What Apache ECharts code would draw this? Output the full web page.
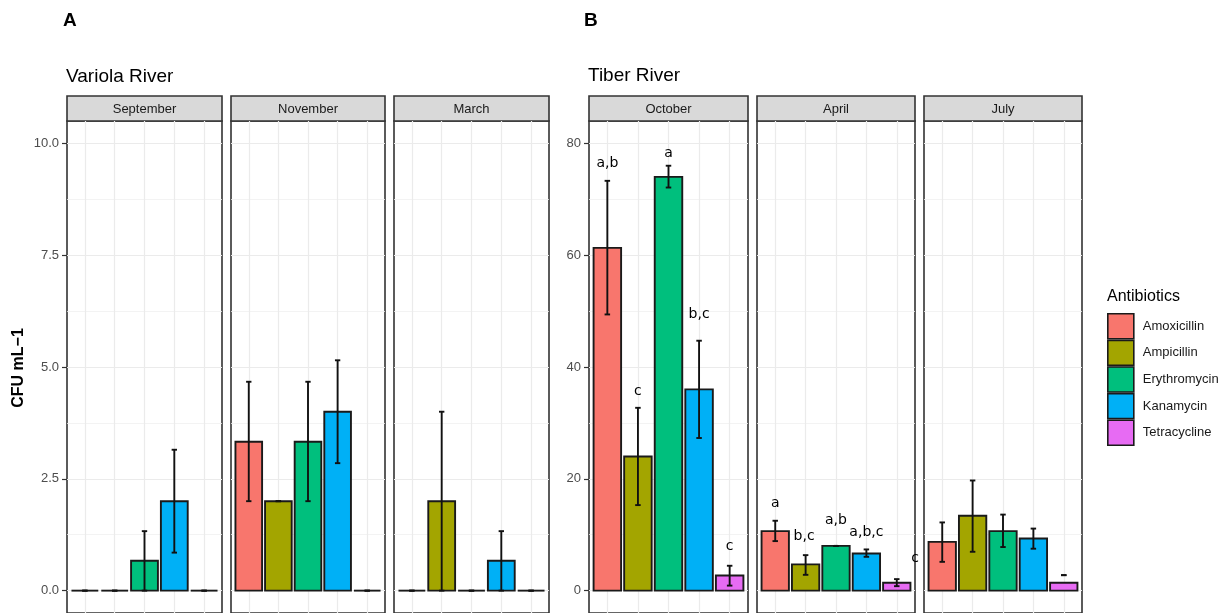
<!DOCTYPE html>
<html>
<head>
<meta charset="utf-8">
<script src="https://cdn.jsdelivr.net/npm/echarts@6/dist/echarts.min.js"></script>
<style>
  html, body { margin: 0; padding: 0; background: #fff; }
  #chart { width: 1222px; height: 613px; }
</style>
</head>
<body>
<div id="chart"></div>
<script>
// ---------- DATA ----------
const antibiotics = ['Amoxicillin', 'Ampicillin', 'Erythromycin', 'Kanamycin', 'Tetracycline'];
const antibioticColors = ['#F8766D', '#A3A500', '#00BF7D', '#00B0F6', '#E76BF3'];

const variolaMonths = ['September', 'November', 'March'];
const tiberMonths = ['October', 'April', 'July'];

const leftTicks = [0, 2.5, 5, 7.5, 10];
const leftMinorTicks = [1.25, 3.75, 6.25, 8.75];
const rightTicks = [0, 20, 40, 60, 80];
const rightMinorTicks = [10, 30, 50, 70];

// Variola River (mean, lower, upper)
const sepMean = [0, 0, 0.667, 2.0, 0];
const sepLo   = [0, 0, 0, 0.85, 0];
const sepHi   = [0, 0, 1.33, 3.15, 0];

const novMean = [3.33, 2.0, 3.33, 4.0, 0];
const novLo   = [2.0, 2.0, 2.0, 2.85, 0];
const novHi   = [4.67, 2.0, 4.67, 5.15, 0];

const marMean = [0, 2.0, 0, 0.667, 0];
const marLo   = [0, 0, 0, 0, 0];
const marHi   = [0, 4.0, 0, 1.33, 0];

// Tiber River (mean, lower, upper, letters)
const octMean = [61.3, 24.0, 74.0, 36.0, 2.7];
const octLo   = [49.4, 15.3, 72.1, 27.3, 0.9];
const octHi   = [73.3, 32.7, 76.0, 44.7, 4.45];
const octLetters  = ['a,b', 'c', 'a', 'b,c', 'c'];
const octLetterY  = [76.5, 35.6, 78.2, 49.5, 8.0];
const octLetterX  = [1, 2, 3, 4, 5];

const aprMean = [10.65, 4.7, 8.0, 6.65, 1.4];
const aprLo   = [8.86, 2.83, 8.0, 6.05, 0.8];
const aprHi   = [12.5, 6.35, 8.0, 7.37, 2.06];
const aprLetters  = ['a', 'b,c', 'a,b', 'a,b,c', 'c'];
const aprLetterY  = [15.6, 9.75, 12.5, 10.35, 5.76];
const aprLetterX  = [1, 1.95, 3, 4, 5.6];

const julMean = [8.73, 13.4, 10.65, 9.33, 1.4];
const julLo   = [5.15, 6.95, 7.8, 7.5, 2.77];
const julHi   = [12.2, 19.7, 13.6, 11.1, 2.77];

// ---------- LAYOUT ----------
const panels = [
  { name: variolaMonths[0], left: 67,  width: 155, mean: sepMean, lo: sepLo, hi: sepHi, scale: 'L', showAxis: true },
  { name: variolaMonths[1], left: 231, width: 154, mean: novMean, lo: novLo, hi: novHi, scale: 'L' },
  { name: variolaMonths[2], left: 394, width: 155, mean: marMean, lo: marLo, hi: marHi, scale: 'L' },
  { name: tiberMonths[0], left: 589, width: 159, mean: octMean, lo: octLo, hi: octHi, scale: 'R', showAxis: true,
    letters: octLetters, letterY: octLetterY, letterX: octLetterX },
  { name: tiberMonths[1], left: 757, width: 158, mean: aprMean, lo: aprLo, hi: aprHi, scale: 'R',
    letters: aprLetters, letterY: aprLetterY, letterX: aprLetterX },
  { name: tiberMonths[2], left: 924, width: 158, mean: julMean, lo: julLo, hi: julHi, scale: 'R' }
];
const TOP = 121, HEIGHT = 492, STRIP_TOP = 96, STRIP_H = 25;
const FONT = '"Liberation Sans", Arial, sans-serif';

const grids = [], xAxes = [], yAxes = [], series = [], graphics = [];

panels.forEach((p, i) => {
  const isL = p.scale === 'L';
  const yMin = isL ? -0.5 : -4, yMax = isL ? 10.5 : 84;
  grids.push({ left: p.left, top: TOP, width: p.width, height: HEIGHT, show: true,
    borderColor: '#333', borderWidth: 1.6, backgroundColor: '#fff', containLabel: false, outerBoundsMode: 'none' });
  xAxes.push({ type: 'value', gridIndex: i, min: 0.4, max: 5.6,
    axisLine: { show: false }, axisLabel: { show: false },
    axisTick: { show: false, customValues: [1, 2, 3, 4, 5] },
    splitLine: { show: true, lineStyle: { color: '#EBEBEB', width: 1.2 } } });
  yAxes.push({ type: 'value', gridIndex: i, min: yMin, max: yMax, position: 'left',
    axisLine: { show: false },
    axisTick: { show: !!p.showAxis, length: 5, customValues: isL ? leftTicks : rightTicks,
      lineStyle: { color: '#333', width: 1.2 } },
    axisLabel: { show: !!p.showAxis, customValues: isL ? leftTicks : rightTicks, margin: 8,
      color: '#4D4D4D', fontSize: 13, fontFamily: FONT,
      formatter: v => isL ? Number(v).toFixed(1) : String(v) },
    splitLine: { show: true, lineStyle: { color: '#EBEBEB', width: 1.2 } } });
});
// minor y axes
panels.forEach((p, i) => {
  const isL = p.scale === 'L';
  yAxes.push({ type: 'value', gridIndex: i, min: isL ? -0.5 : -4, max: isL ? 10.5 : 84, position: 'right',
    axisLine: { show: false }, axisLabel: { show: false },
    axisTick: { show: false, customValues: isL ? leftMinorTicks : rightMinorTicks },
    splitLine: { show: true, lineStyle: { color: '#F0F0F0', width: 0.8 } } });
});

function makeRender(color, letter, ly, lx) {
  return function (params, api) {
    const x = api.value(0), v = api.value(1), lo = api.value(2), hi = api.value(3);
    const w = api.size([0.9, 0])[0];
    const cw = api.size([0.18, 0])[0];
    const p0 = api.coord([x, 0]), p1 = api.coord([x, v]);
    const pl = api.coord([x, lo]), ph = api.coord([x, hi]);
    const children = [];
    if (p0[1] - p1[1] > 0.5) {
      children.push({ type: 'rect', shape: { x: p0[0] - w / 2, y: p1[1], width: w, height: p0[1] - p1[1] },
        style: { fill: color, stroke: '#1a1a1a', lineWidth: 1.9 } });
    } else {
      children.push({ type: 'line', shape: { x1: p0[0] - w / 2, y1: p0[1], x2: p0[0] + w / 2, y2: p0[1] },
        style: { stroke: '#1a1a1a', lineWidth: 1.9 } });
    }
    const es = { stroke: '#111', lineWidth: 1.9 };
    children.push({ type: 'line', shape: { x1: pl[0], y1: pl[1], x2: ph[0], y2: ph[1] }, style: es });
    children.push({ type: 'line', shape: { x1: pl[0] - cw / 2, y1: pl[1], x2: pl[0] + cw / 2, y2: pl[1] }, style: es });
    children.push({ type: 'line', shape: { x1: ph[0] - cw / 2, y1: ph[1], x2: ph[0] + cw / 2, y2: ph[1] }, style: es });
    if (letter) {
      const pt = api.coord([lx, ly]);
      children.push({ type: 'text', x: pt[0], y: pt[1],
        style: { text: letter, fill: '#000', font: '14px "DejaVu Sans", sans-serif', align: 'center', verticalAlign: 'middle' } });
    }
    return { type: 'group', children };
  };
}

panels.forEach((p, i) => {
  antibiotics.forEach((ab, k) => {
    series.push({
      type: 'custom', name: ab, xAxisIndex: i, yAxisIndex: i, clip: false,
      itemStyle: { color: antibioticColors[k] },
      renderItem: makeRender(antibioticColors[k], p.letters ? p.letters[k] : null,
        p.letterY ? p.letterY[k] : 0, p.letterX ? p.letterX[k] : k + 1),
      data: [[k + 1, p.mean[k], p.lo[k], p.hi[k]]],
      silent: true
    });
  });
  graphics.push({ type: 'rect', shape: { x: p.left, y: STRIP_TOP, width: p.width, height: STRIP_H },
    style: { fill: '#D9D9D9', stroke: '#333', lineWidth: 1.6 } });
  graphics.push({ type: 'text', x: p.left + p.width / 2, y: STRIP_TOP + STRIP_H / 2 + 0.5,
    style: { text: p.name, fill: '#1A1A1A', font: '13px ' + FONT, align: 'center', verticalAlign: 'middle' } });
});

graphics.push({ type: 'text', x: 63, y: 21, style: { text: 'A', fill: '#000', font: 'bold 19px ' + FONT, verticalAlign: 'middle' } });
graphics.push({ type: 'text', x: 584, y: 21, style: { text: 'B', fill: '#000', font: 'bold 19px ' + FONT, verticalAlign: 'middle' } });
graphics.push({ type: 'text', x: 66, y: 77, style: { text: 'Variola River', fill: '#000', font: '19px ' + FONT, verticalAlign: 'middle' } });
graphics.push({ type: 'text', x: 588, y: 76, style: { text: 'Tiber River', fill: '#000', font: '19px ' + FONT, verticalAlign: 'middle' } });
graphics.push({ type: 'text', x: 19, y: 368, rotation: Math.PI / 2,
  style: { text: 'CFU mL\u22121', fill: '#000', font: 'bold 16px ' + FONT, align: 'center', verticalAlign: 'middle' } });
graphics.push({ type: 'text', x: 1107, y: 297, style: { text: 'Antibiotics', fill: '#000', font: '16px ' + FONT, verticalAlign: 'middle' } });

const chart = echarts.init(document.getElementById('chart'), null, { renderer: 'canvas' });
chart.setOption({
  animation: false,
  backgroundColor: '#fff',
  grid: grids,
  xAxis: xAxes,
  yAxis: yAxes,
  legend: {
    data: antibiotics, orient: 'vertical', left: 1107, top: 313, padding: 0,
    itemWidth: 26, itemHeight: 25, itemGap: 0,
    icon: 'rect', selectedMode: false,
    itemStyle: { borderColor: '#1a1a1a', borderWidth: 1.6 },
    textStyle: { fontSize: 13, color: '#1A1A1A', fontFamily: FONT, padding: [0, 0, 0, 4] }
  },
  graphic: { elements: graphics },
  series: series
});
</script>
</body>
</html>
